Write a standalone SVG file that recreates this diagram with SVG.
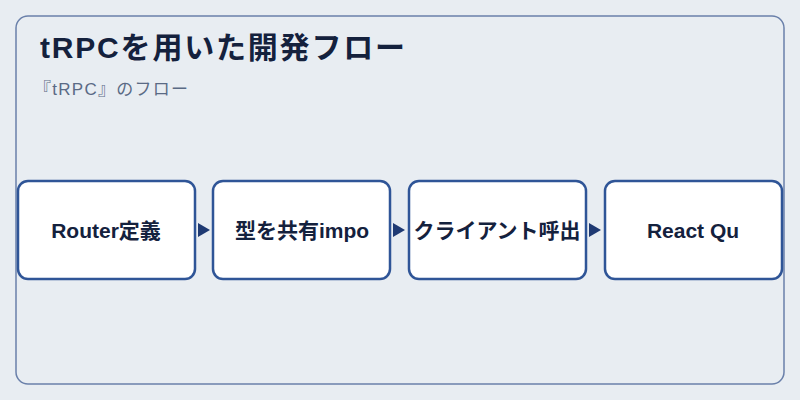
<svg xmlns="http://www.w3.org/2000/svg" width="800" height="400" viewBox="0 0 800 400">
<style>
.n{fill:#fff;stroke:#2f5597;stroke-width:2.5}
.t{font-family:"Liberation Sans","Noto Sans CJK JP",sans-serif;font-weight:bold;font-size:21px;fill:#14213d;text-anchor:middle}
.a{fill:#1f3a73}
</style>
<rect width="800" height="400" fill="#e8edf2"/>
<rect x="16" y="16" width="768" height="368" rx="12" fill="#e8edf2" stroke="#6a80aa" stroke-width="1.5"/>
<text x="40" y="58" font-family="Liberation Sans,Noto Sans CJK JP,sans-serif" font-weight="bold" font-size="30" fill="#14213d" textLength="365">tRPCを用いた開発フロー</text>
<text x="34" y="95" font-family="Liberation Sans,Noto Sans CJK JP,sans-serif" font-size="17" fill="#5a6a85" textLength="154">『tRPC』のフロー</text>
<g id="connectors">
<polygon class="a" points="198,223 210,230 198,237"/>
<polygon class="a" points="393,223 405,230 393,237"/>
<polygon class="a" points="589,223 601,230 589,237"/>
</g>
<g id="n1"><rect class="n" x="18" y="181" width="177" height="98" rx="10"/><text class="t" x="106" y="238">Router定義</text></g>
<g id="n2"><rect class="n" x="213" y="181" width="177" height="98" rx="10"/><text class="t" x="302" y="238">型を共有impo</text></g>
<g id="n3"><rect class="n" x="409" y="181" width="177" height="98" rx="10"/><text class="t" x="497" y="238">クライアント呼出</text></g>
<g id="n4"><rect class="n" x="605" y="181" width="177" height="98" rx="10"/><text class="t" x="693" y="238">React Qu</text></g>
</svg>
